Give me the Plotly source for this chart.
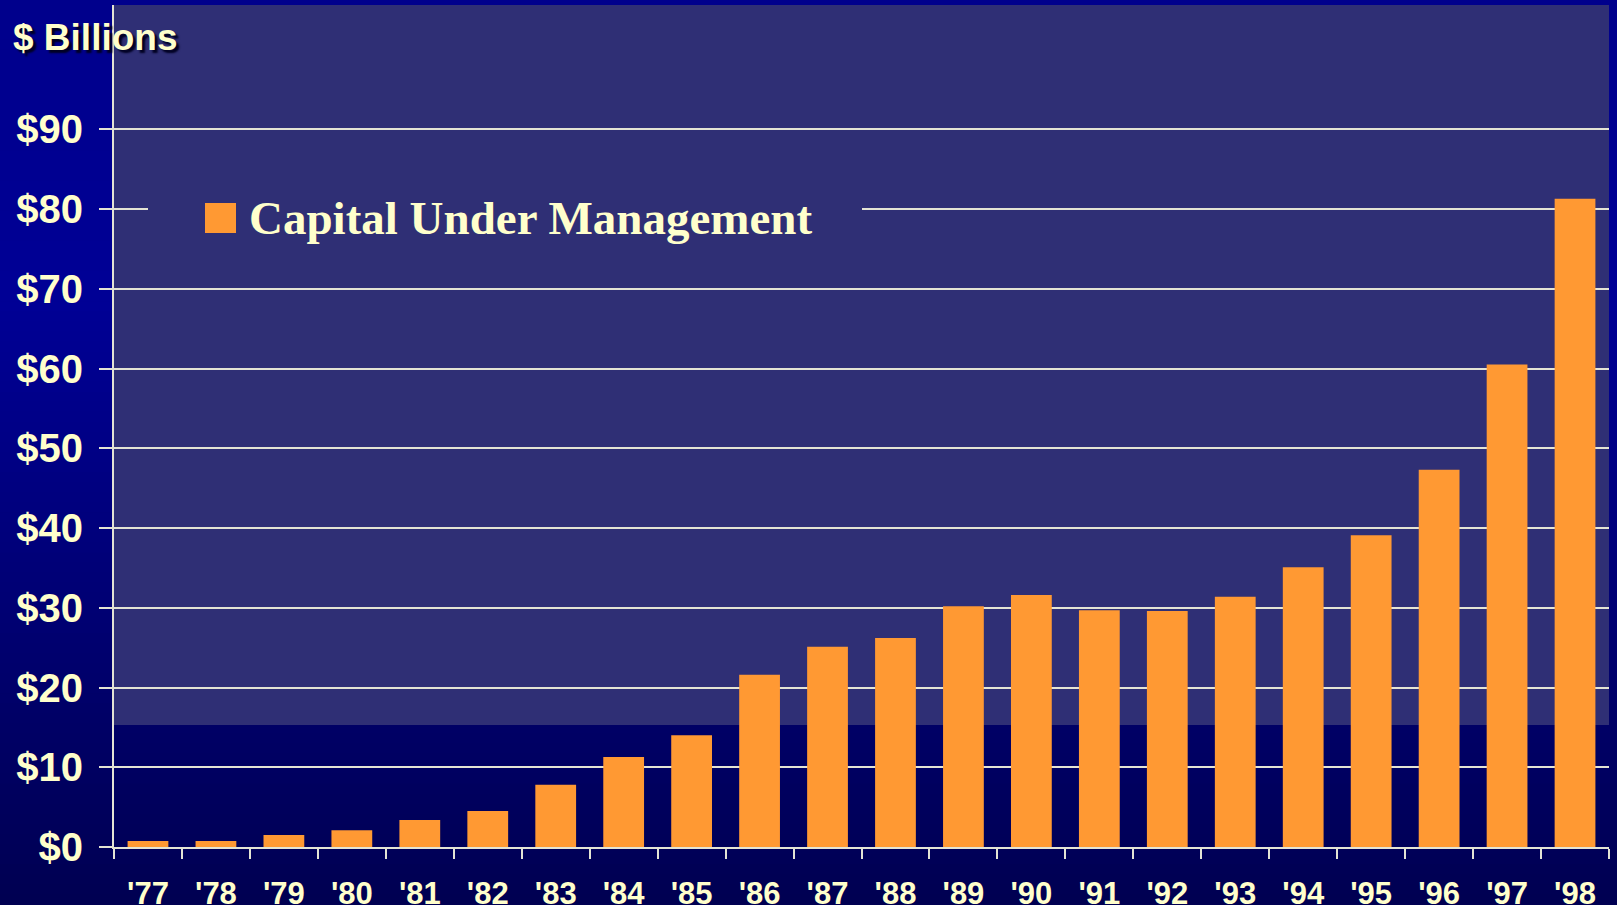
import plotly.graph_objects as go

# ---------------- data ----------------
years = ["'77", "'78", "'79", "'80", "'81", "'82", "'83", "'84", "'85", "'86", "'87",
         "'88", "'89", "'90", "'91", "'92", "'93", "'94", "'95", "'96", "'97", "'98"]
capital = [0.75, 0.75, 1.5, 2.1, 3.4, 4.5, 7.8, 11.3, 14.0, 21.6, 25.1,
           26.2, 30.2, 31.6, 29.7, 29.6, 31.4, 35.1, 39.1, 47.3, 60.5, 81.3]
y_ticks = [0, 10, 20, 30, 40, 50, 60, 70, 80, 90]
y_tick_labels = ["$" + str(v) for v in y_ticks]
series_name = "Capital Under Management"
axis_title = "$ Billions"

# ---------------- style ----------------
W, H = 1617, 905
ML, MR, MT, MB = 114, 8, 5, 58
PW, PH = W - ML - MR, H - MT - MB
Y_MAX = 105.6
BAND_LOW = 15.3          # lower edge of the lighter backdrop band
TEXT = "#FFFFCC"
LINE = "#E4E4D4"
BAR = "#FF9933"
BAND = "#2F2F75"


def px_x(p):
    return (p - ML) / PW


def px_y(p):
    return (H - MB - p) / PH


shapes = []
# vertical gradient backdrop
n = 90
for i in range(n):
    t0 = i / n
    t1 = (i + 1) / n
    tm = (t0 + t1) / 2
    if tm < 0.33:
        b = 140 + (150 - 140) * tm / 0.33
    else:
        b = 150 - (150 - 82) * (tm - 0.33) / 0.67
    shapes.append(dict(type="rect", xref="paper", yref="paper", layer="below",
                       x0=px_x(-5), x1=px_x(W + 5),
                       y0=px_y(H * t1 + 0.5), y1=px_y(H * t0 - 0.5),
                       fillcolor=f"rgb(0,0,{int(b)})", line=dict(width=0)))
# lighter band in plot area
shapes.append(dict(type="rect", xref="x", yref="y", layer="below",
                   x0=-0.5, x1=len(years) - 0.5, y0=BAND_LOW, y1=Y_MAX,
                   fillcolor=BAND, line=dict(width=0)))
# legend backdrop (masks the gridline)
shapes.append(dict(type="rect", xref="paper", yref="paper", layer="above",
                   x0=px_x(148), x1=px_x(862), y0=px_y(240), y1=px_y(186),
                   fillcolor=BAND, line=dict(width=0)))
# legend swatch
shapes.append(dict(type="rect", xref="paper", yref="paper", layer="above",
                   x0=px_x(205), x1=px_x(236), y0=px_y(233), y1=px_y(203),
                   fillcolor=BAR, line=dict(width=0)))

annotations = [
    dict(text=axis_title, xref="paper", yref="paper", x=px_x(11), y=px_y(37),
         xanchor="left", yanchor="middle", showarrow=False,
         font=dict(family="Arial, Liberation Sans, sans-serif", size=37, color=TEXT,
                   weight="bold", shadow="3px 3px 2px #000022")),
    dict(text=series_name, xref="paper", yref="paper", x=px_x(247), y=px_y(218),
         xanchor="left", yanchor="middle", showarrow=False,
         font=dict(family="Times New Roman, Liberation Serif, serif", size=47,
                   color=TEXT, weight="bold")),
]

fig = go.Figure()
fig.add_trace(go.Bar(x=years, y=capital, name=series_name,
                     marker=dict(color=BAR, line=dict(width=0)), showlegend=False))

fig.update_layout(
    width=W, height=H,
    margin=dict(l=ML, r=MR, t=MT, b=MB, pad=0, autoexpand=False),
    paper_bgcolor="rgb(0,0,120)",
    plot_bgcolor="rgba(0,0,0,0)",
    bargap=0.4,
    shapes=shapes,
    annotations=annotations,
    showlegend=False,
    xaxis=dict(type="category", tickson="boundaries", ticks="outside", ticklen=10,
               tickwidth=2, tickcolor=LINE, showline=True, linecolor=LINE, linewidth=2,
               showgrid=False, range=[-0.5, len(years) - 0.5], automargin=False,
               tickfont=dict(family="Arial, Liberation Sans, sans-serif", size=31,
                             color=TEXT, weight="bold"),
               ticklabelstandoff=18),
    yaxis=dict(range=[0, Y_MAX], tickvals=y_ticks, ticktext=y_tick_labels,
               ticks="outside", ticklen=13, tickwidth=2, tickcolor=LINE,
               showline=True, linecolor=LINE, linewidth=2, automargin=False,
               showgrid=True, gridcolor=LINE, gridwidth=2, zeroline=False,
               tickfont=dict(family="Arial, Liberation Sans, sans-serif", size=40,
                             color=TEXT, weight="bold"),
               ticklabelstandoff=8),
)

fig.write_html("out.html",
               config={"displayModeBar": False},
               post_script="document.body.style.margin='0px';"
                           "document.body.style.overflow='hidden';")
